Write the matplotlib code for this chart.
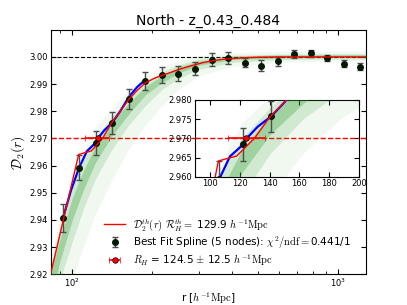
import numpy as np
import matplotlib
matplotlib.use('Agg')
import matplotlib.pyplot as plt
from matplotlib.ticker import FormatStrFormatter, MultipleLocator

plt.rcParams['mathtext.fontset'] = 'cm'
plt.rcParams['font.family'] = 'DejaVu Sans'

# measured fractal correlation dimension
r_data = [92.3, 106.2, 122.4, 141.3, 163, 188, 217, 250, 289, 334, 386,
          446, 513, 592, 684, 789, 909, 1048, 1207]
d2_data = [2.9407, 2.9593, 2.9684, 2.9757, 2.9846, 2.9912, 2.9934, 2.9938,
           2.9956, 2.9989, 2.9996, 2.9979, 2.9968, 2.9984, 3.0011, 3.0013,
           2.9995, 2.9975, 2.9964]
d2_err = [0.0052, 0.0047, 0.0044, 0.0041, 0.0037, 0.0032, 0.0030, 0.0028,
          0.0024, 0.0024, 0.0022, 0.0017, 0.0019, 0.0016, 0.0016, 0.0014,
          0.0011, 0.0012, 0.0013]

# theory curve
r_th = [80, 105.7, 118, 129.9, 140.3, 151.5, 163, 175, 188, 202, 217, 233,
        250, 270, 289, 310, 334, 360, 386, 446, 513, 600, 800, 1300]
d2_th = [2.9135, 2.9641, 2.9654, 2.9700, 2.9756, 2.9800, 2.9843, 2.9876,
         2.9904, 2.9920, 2.9932, 2.9942, 2.9953, 2.9963, 2.9971, 2.9979,
         2.9985, 2.9990, 2.9993, 2.9997, 2.9999, 3.0, 3.0, 3.0]

# best fit spline
r_spl = [92.3, 99, 106.2, 113.5, 122.4, 124.7, 132, 141, 151.5, 163, 175, 188]
d2_spl = [2.9407, 2.9510, 2.9593, 2.9653, 2.9684, 2.9700, 2.9730, 2.9757,
          2.9800, 2.9852, 2.9888, 2.9916]

# spread of the MC spline realisations (outer, inner, core envelopes)
r_band = [83, 90, 100, 110, 122, 141, 163, 188, 217, 250, 300, 400, 600, 900, 1270]
band_outer_hi = [2.925, 2.940, 2.955, 2.965, 2.974, 2.981, 2.988, 2.993, 2.9965,
                 2.9985, 3.0005, 3.0015, 3.002, 3.0022, 3.0022]
band_outer_lo = [2.895, 2.905, 2.918, 2.930, 2.942, 2.955, 2.966, 2.975, 2.982,
                 2.988, 2.993, 2.9965, 2.998, 2.9985, 2.9985]
band_inner_hi = [2.923, 2.937, 2.952, 2.962, 2.970, 2.978, 2.985, 2.9905, 2.9945,
                 2.997, 2.9992, 3.0006, 3.001, 3.0012, 3.0012]
band_inner_lo = [2.905, 2.918, 2.932, 2.944, 2.955, 2.966, 2.975, 2.982, 2.988,
                 2.992, 2.9955, 2.998, 2.999, 2.9992, 2.9992]
band_core_hi = [2.921, 2.933, 2.948, 2.958, 2.967, 2.976, 2.983, 2.989, 2.993,
                2.9962, 2.9985, 3.0003, 3.0007, 3.0008, 3.0008]
band_core_lo = [2.910, 2.925, 2.940, 2.951, 2.961, 2.971, 2.979, 2.986, 2.9905,
                2.9940, 2.9970, 2.9990, 2.9996, 2.9998, 2.9998]

rh = 124.5
rh_err = 12.5
d2_level = 2.970


def draw(ax, legend=False):
    for lo, hi, a in [(band_outer_lo, band_outer_hi, 0.07),
                      (band_inner_lo, band_inner_hi, 0.16),
                      (band_core_lo, band_core_hi, 0.3)]:
        ax.fill_between(r_band, lo, hi, color='#2e9e2e', alpha=a, lw=0, zorder=3)
    ax.axhline(d2_level, color='r', ls='--', lw=1, zorder=2)
    l1, = ax.plot(r_th, d2_th, color='r', lw=1, zorder=5,
                  label=r'$\mathcal{D}_2^{th}(r)$ $\mathcal{R}_H^{th}=$ 129.9 $h^{-1}\mathrm{Mpc}$')
    ax.plot(r_spl, d2_spl, color='b', lw=1.6, zorder=4)
    e1 = ax.errorbar(r_data, d2_data, yerr=d2_err, fmt='o', color='#061806', ms=4,
                     ecolor='0.3', capsize=2.5, elinewidth=1, zorder=4.5,
                     label=r'Best Fit Spline (5 nodes): $\chi^2/\mathrm{ndf}=$0.441/1')
    e2 = ax.errorbar([rh], [d2_level], xerr=[rh_err], fmt='o', color='r', ms=4,
                     mec='k', mew=0.5, ecolor='r', capsize=2.5, elinewidth=1.2,
                     zorder=6, label=r'$R_H$ = 124.5 $\pm$ 12.5 $h^{-1}\mathrm{Mpc}$')
    if legend:
        ax.legend(handles=[l1, e1, e2], loc='lower left',
                  bbox_to_anchor=(0.14, -0.012), frameon=False, fontsize=7.5,
                  handlelength=2.0, labelspacing=0.15, numpoints=1)
    ax.tick_params(which='both', direction='in', top=True, right=True,
                   labelsize=6, pad=2)


fig = plt.figure(figsize=(4.07, 3.05), dpi=100)
ax = fig.add_axes([0.1246, 0.1007, 0.7747, 0.8009])
draw(ax, legend=True)
ax.axhline(3.0, color='k', ls='--', lw=0.8, zorder=2)
ax.set_xscale('log')
ax.set_xlim(83, 1270)
ax.set_ylim(2.92, 3.0099)
ax.yaxis.set_major_locator(MultipleLocator(0.01))
ax.yaxis.set_major_formatter(FormatStrFormatter('%.2f'))
ax.set_title('North - z_0.43_0.484', fontsize=10, pad=4)
ax.set_xlabel(r'r [$h^{-1}\mathrm{Mpc}$]', fontsize=7.5, labelpad=1)
ax.set_ylabel(r'$\mathcal{D}_2(r)$', fontsize=10, labelpad=2)

ins = fig.add_axes([0.479, 0.4207, 0.403, 0.2515])
draw(ins)
ins.set_xlim(90, 200)
ins.set_ylim(2.96, 2.98)
ins.xaxis.set_major_locator(MultipleLocator(20))
ins.yaxis.set_major_locator(MultipleLocator(0.005))
ins.yaxis.set_major_formatter(FormatStrFormatter('%.3f'))

fig.savefig('out.png', dpi=100)
